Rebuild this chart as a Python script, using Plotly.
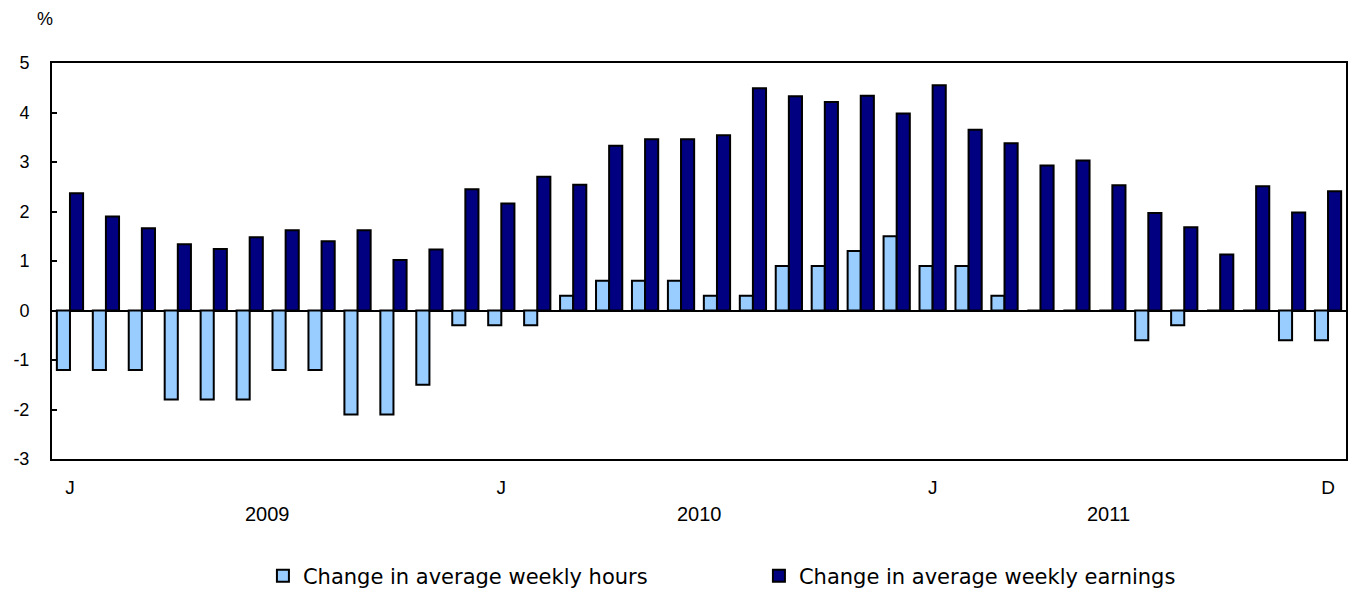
import plotly.graph_objects as go

months = list(range(36))  # Jan 2009 .. Dec 2011
hours = [-1.2, -1.2, -1.2, -1.8, -1.8, -1.8, -1.2, -1.2, -2.1, -2.1, -1.5, -0.3,
         -0.3, -0.3, 0.3, 0.6, 0.6, 0.6, 0.3, 0.3, 0.9, 0.9, 1.2, 1.5,
         0.9, 0.9, 0.3, 0.0, 0.0, 0.0, -0.6, -0.3, 0.0, 0.0, -0.6, -0.6]
earnings = [2.37, 1.90, 1.66, 1.34, 1.24, 1.48, 1.62, 1.40, 1.62, 1.02, 1.23, 2.45,
            2.16, 2.70, 2.54, 3.33, 3.46, 3.46, 3.54, 4.49, 4.33, 4.21, 4.34, 3.98,
            4.55, 3.65, 3.38, 2.93, 3.03, 2.53, 1.97, 1.68, 1.13, 2.51, 1.98, 2.41]
month_tick_pos = [0, 12, 24, 35]
month_tick_text = ["J", "J", "J", "D"]
y_tick_vals = [-3, -2, -1, 0, 1, 2, 3, 4, 5]
y_tick_text = ["-3", "-2", "-1", "0", "1", "2", "3", "4", "5"]
years = ["2009", "2010", "2011"]
year_pos = [5.5, 17.5, 28.9]

FONT = "Liberation Sans"
LFONT = "DejaVu Sans"
fig = go.Figure()
fig.add_trace(go.Bar(x=months, y=hours, name="Change in average weekly hours",
                     marker=dict(color="#99CCFF", line=dict(color="black", width=2))))
fig.add_trace(go.Bar(x=months, y=earnings, name="Change in average weekly earnings",
                     marker=dict(color="#000080", line=dict(color="black", width=2))))

for y, p in zip(years, year_pos):
    fig.add_annotation(x=p, y=-3, xref="x", yref="y", text=y, showarrow=False,
                       xanchor="center", yanchor="middle",
                       yshift=-55, font=dict(family=FONT, size=20, color="black"))
fig.add_annotation(x=0, y=1, xref="paper", yref="paper", text="%", showarrow=False,
                   xanchor="center", yanchor="middle",
                   xshift=-7, yshift=44, font=dict(family=FONT, size=18, color="black"))

fig.update_layout(
    width=1354, height=590,
    margin=dict(l=52, r=8, t=63, b=131),
    paper_bgcolor="white", plot_bgcolor="white",
    barmode="group", bargap=0.27, bargroupgap=0,
    font=dict(family=FONT, size=18, color="black"),
    showlegend=True,
    legend=dict(orientation="h", x=0.163, xanchor="left",
                yref="container", y=0.0237, yanchor="middle",
                font=dict(family=LFONT, size=21), itemsizing="constant",
                entrywidth=451, entrywidthmode="pixels", traceorder="normal"),
    xaxis=dict(range=[-0.5, 35.5], tickmode="array", tickvals=month_tick_pos,
               ticktext=month_tick_text, showgrid=False, zeroline=False,
               showline=True, linecolor="black", linewidth=2, mirror=True,
               ticks="", ticklabelstandoff=10, automargin=False,
               tickfont=dict(size=19)),
    yaxis=dict(range=[-3, 5], tickmode="array", tickvals=y_tick_vals,
               ticktext=y_tick_text, showgrid=False, zeroline=True,
               zerolinecolor="black", zerolinewidth=2,
               showline=True, linecolor="black", linewidth=2, mirror=True,
               ticks="inside", ticklen=5, tickwidth=2, tickcolor="black",
               ticklabelstandoff=17, automargin=False),
)
fig.write_html("out.html", config={"displayModeBar": False},
               post_script="document.body.style.margin='0';document.body.style.overflow='hidden';")
